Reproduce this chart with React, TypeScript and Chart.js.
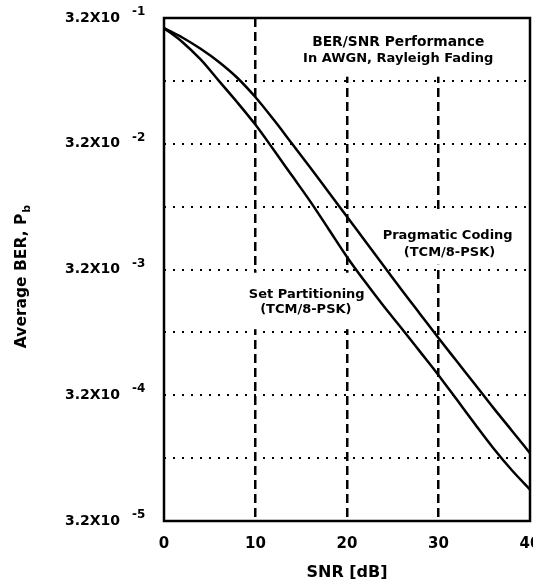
import React, { useEffect, useRef } from "react";
import { Chart, registerables } from "chart.js";

Chart.register(...registerables);

// ---- data ----
const SNR_DB = [0, 2, 4, 6, 8, 10, 12, 14, 16, 18, 20, 22, 24, 26, 28, 30, 32, 34, 36, 38, 40];

const PRAGMATIC_BER = [
  0.263, 0.2213, 0.1799, 0.1413, 0.1059, 0.0741, 0.049, 0.0316, 0.0204, 0.01303, 0.00832,
  0.00531, 0.00339, 0.00216, 0.001396, 0.000902, 0.000589, 0.000385, 0.000251, 0.000166, 0.0001096,
];

const SET_PARTITION_BER = [
  0.263, 0.204, 0.148, 0.1, 0.0676, 0.0447, 0.0282, 0.01758, 0.01096, 0.00661, 0.00398,
  0.00251, 0.00162, 0.00107, 0.0007, 0.000457, 0.000292, 0.000186, 0.00012, 0.0000804, 0.0000562,
];

const X_TICKS = [0, 10, 20, 30, 40];
const Y_GRID_VALUES = [
  0.31623, 0.1, 0.031623, 0.01, 0.0031623, 0.001, 0.00031623, 0.0001, 0.000031623,
];
const Y_TICK_LABELS = ["3.2X10", "", "3.2X10", "", "3.2X10", "", "3.2X10", "", "3.2X10"];
const Y_TICK_EXPONENTS = ["-1", "", "-2", "", "-3", "", "-4", "", "-5"];

const X_TITLE = "SNR [dB]";
const Y_TITLE = "Average BER, P";
const Y_TITLE_SUB = "b";

const ANNOTATIONS = [
  { text: "BER/SNR Performance", x: 25.6, y: 0.204 },
  { text: "In AWGN, Rayleigh Fading", x: 25.6, y: 0.151 },
  { text: "Pragmatic Coding", x: 31.0, y: 0.00589 },
  { text: "(TCM/8-PSK)", x: 31.2, y: 0.00427 },
  { text: "Set Partitioning", x: 15.6, y: 0.002 },
  { text: "(TCM/8-PSK)", x: 15.5, y: 0.00151 },
];

// white areas behind the annotation blocks (hide grid lines there)
const LABEL_BOXES = [
  { x0: 15.0, x1: 36.6, y0: 0.316, y1: 0.108 },
  { x0: 23.4, x1: 38.7, y0: 0.0095, y1: 0.00345 },
  { x0: 9.2, x1: 22.3, y0: 0.00298, y1: 0.00106 },
];

const FONT = '"DejaVu Sans", "Liberation Sans", sans-serif';
const CLEAR = "rgba(0,0,0,0)";

const decorPlugin = {
  id: "decor",
  beforeDatasetsDraw(chart: any) {
    const { ctx, scales } = chart;
    const xs = scales.x;
    const ys = scales.y;
    ctx.save();
    ctx.fillStyle = "#fff";
    LABEL_BOXES.forEach((b) => {
      const l = xs.getPixelForValue(b.x0);
      const r = xs.getPixelForValue(b.x1);
      const t = ys.getPixelForValue(b.y0);
      const bt = ys.getPixelForValue(b.y1);
      ctx.fillRect(l, t, r - l, bt - t);
    });
    ctx.restore();
  },
  afterDraw(chart: any) {
    const { ctx, chartArea: a, scales } = chart;
    const xs = scales.x;
    const ys = scales.y;
    ctx.save();
    // frame
    ctx.strokeStyle = "#000";
    ctx.lineWidth = 2.5;
    ctx.setLineDash([]);
    ctx.strokeRect(a.left, a.top, a.right - a.left, a.bottom - a.top);

    ctx.fillStyle = "#000";
    // exponents of y tick labels
    ctx.font = `bold 12px ${FONT}`;
    ctx.textAlign = "left";
    ctx.textBaseline = "middle";
    Y_GRID_VALUES.forEach((v, i) => {
      const e = Y_TICK_EXPONENTS[i];
      if (!e) return;
      const py = ys.getPixelForValue(v);
      ctx.fillText(e, a.left - 32, py - 6);
    });

    // annotations
    ctx.textAlign = "center";
    ctx.textBaseline = "middle";
    ANNOTATIONS.forEach((n, i) => {
      ctx.font = `bold ${i === 0 ? 13.8 : 13}px ${FONT}`;
      ctx.fillText(n.text, xs.getPixelForValue(n.x), ys.getPixelForValue(n.y));
    });

    // y title with subscript
    ctx.translate(22, (a.top + a.bottom) / 2 + 7);
    ctx.rotate(-Math.PI / 2);
    ctx.font = `bold 15.5px ${FONT}`;
    const mainW = ctx.measureText(Y_TITLE).width;
    ctx.font = `bold 11px ${FONT}`;
    const subW = ctx.measureText(Y_TITLE_SUB).width;
    const start = -(mainW + subW + 1) / 2;
    ctx.textAlign = "left";
    ctx.textBaseline = "middle";
    ctx.font = `bold 15.5px ${FONT}`;
    ctx.fillText(Y_TITLE, start, 0);
    ctx.font = `bold 11px ${FONT}`;
    ctx.fillText(Y_TITLE_SUB, start + mainW + 1, 5);
    ctx.restore();
  },
};

export default function App() {
  const ref = useRef<HTMLCanvasElement>(null);

  useEffect(() => {
    if (!ref.current) return;
    const chart = new Chart(ref.current, {
      type: "line",
      data: {
        labels: SNR_DB,
        datasets: [
          {
            label: "Pragmatic Coding (TCM/8-PSK)",
            data: SNR_DB.map((x, i) => ({ x, y: PRAGMATIC_BER[i] })),
            borderColor: "#000",
            borderWidth: 2.5,
            pointRadius: 0,
            cubicInterpolationMode: "monotone",
            fill: false,
          },
          {
            label: "Set Partitioning (TCM/8-PSK)",
            data: SNR_DB.map((x, i) => ({ x, y: SET_PARTITION_BER[i] })),
            borderColor: "#000",
            borderWidth: 2.5,
            pointRadius: 0,
            cubicInterpolationMode: "monotone",
            fill: false,
          },
        ],
      },
      options: {
        animation: false,
        responsive: false,
        devicePixelRatio: 1,
        layout: { padding: { top: 18, right: 3, left: 0, bottom: 0 } },
        plugins: {
          legend: { display: false },
          tooltip: { enabled: false },
        },
        scales: {
          x: {
            type: "linear",
            min: 0,
            max: 40,
            afterBuildTicks: (s: any) => {
              s.ticks = X_TICKS.map((value) => ({ value }));
            },
            afterFit: (s: any) => {
              s.height = 67;
              s.paddingLeft = 0;
              s.paddingRight = 0;
            },
            ticks: {
              color: "#000",
              font: { family: FONT, size: 15, weight: "bold" },
              padding: 14,
              maxRotation: 0,
              autoSkip: false,
            },
            grid: {
              drawTicks: false,
              lineWidth: 2.5,
              color: (c: any) =>
                c.tick && (c.tick.value === 0 || c.tick.value === 40) ? CLEAR : "#000",
            },
            border: { display: false, dash: [9, 5] },
            title: {
              display: true,
              text: X_TITLE,
              color: "#000",
              font: { family: FONT, size: 16, weight: "bold", lineHeight: 1 },
              padding: { top: 0, bottom: 7 },
            },
          },
          y: {
            type: "logarithmic",
            min: Y_GRID_VALUES[Y_GRID_VALUES.length - 1],
            max: Y_GRID_VALUES[0],
            afterBuildTicks: (s: any) => {
              s.ticks = Y_GRID_VALUES.map((value) => ({ value }));
            },
            afterFit: (s: any) => {
              s.width = 164;
              s.paddingTop = 0;
              s.paddingBottom = 0;
            },
            ticks: {
              color: "#000",
              font: { family: FONT, size: 14, weight: "bold" },
              padding: 44,
              autoSkip: false,
              callback: (_v: any, i: number) => Y_TICK_LABELS[i],
            },
            grid: {
              drawTicks: false,
              lineWidth: 2,
              color: (c: any) =>
                c.index === 0 || c.index === Y_GRID_VALUES.length - 1 ? CLEAR : "#000",
            },
            border: { display: false, dash: [2, 7] },
          },
        },
      },
      plugins: [decorPlugin],
    } as any);
    return () => chart.destroy();
  }, []);

  return (
    <div style={{ position: "fixed", left: 0, top: 0, width: 533, height: 588, background: "#fff" }}>
      <canvas ref={ref} width={533} height={588} />
    </div>
  );
}
